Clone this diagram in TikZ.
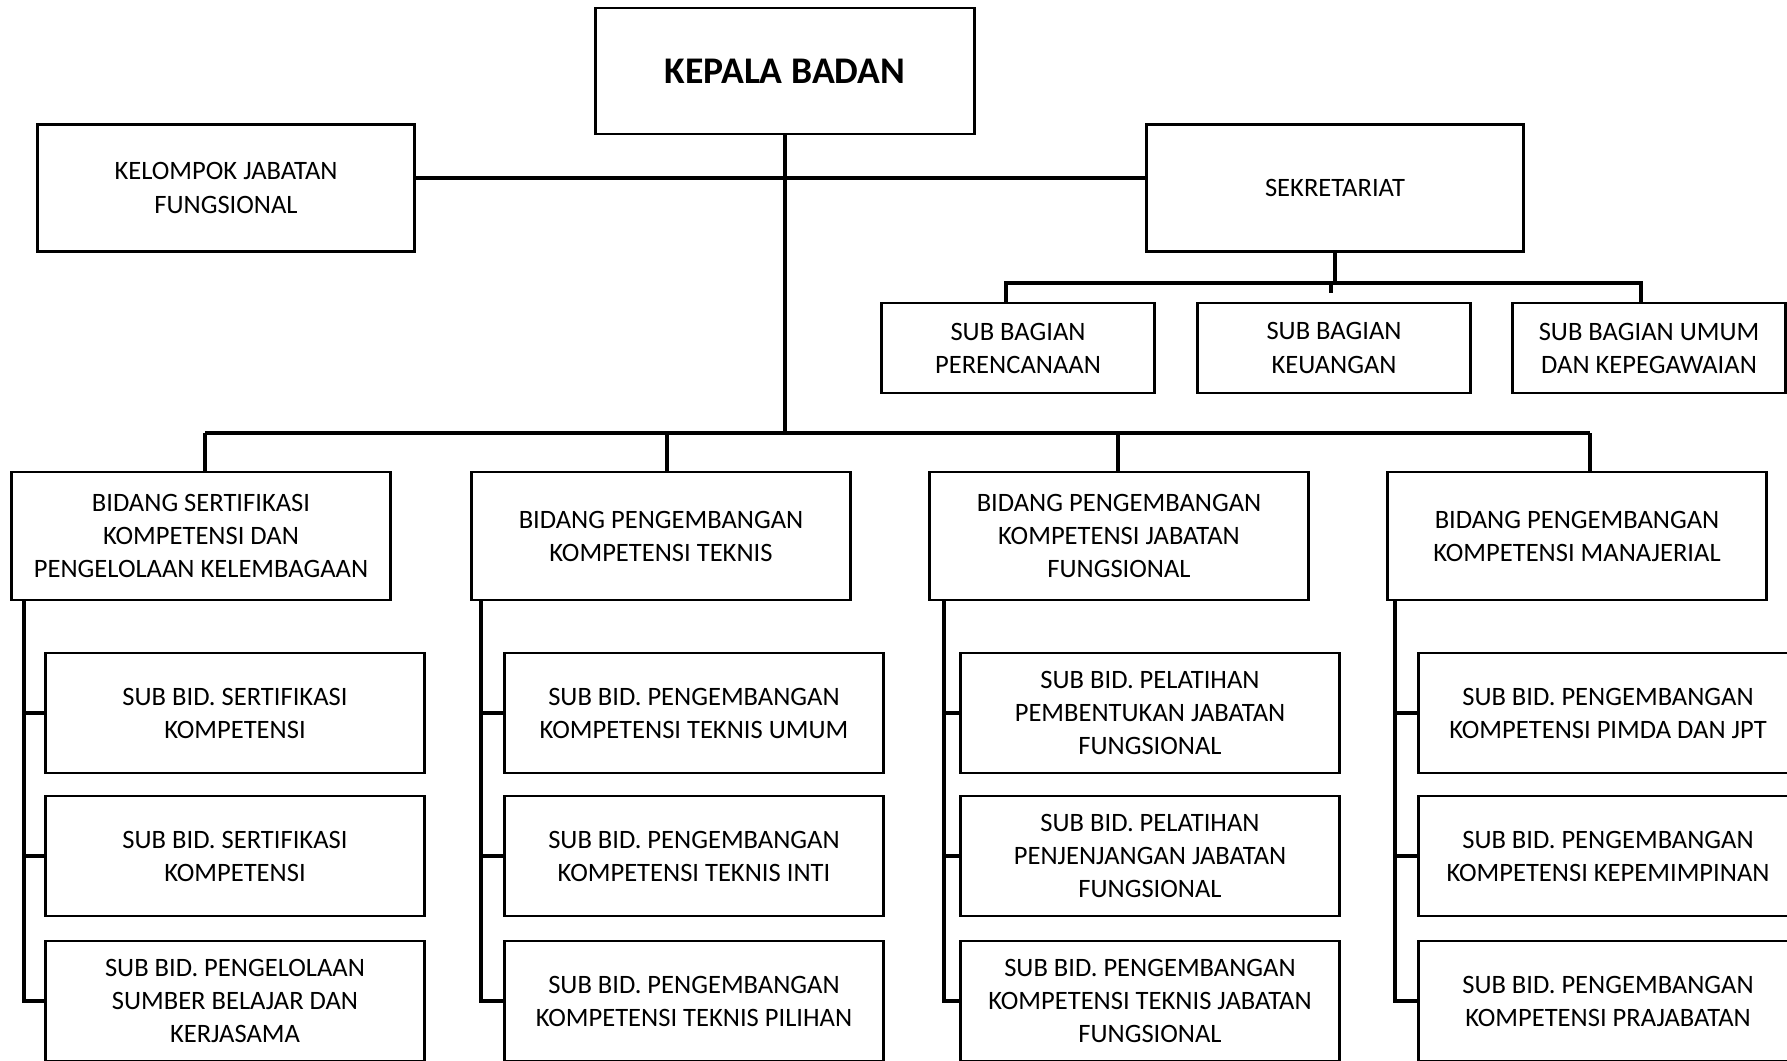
\documentclass[tikz,border=0pt]{standalone}
\usepackage{fontspec}
\setmainfont{Carlito}
\tikzset{
  box/.style={draw, line width=0.8pt, align=center, inner sep=0pt,
    font=\fontsize{7.55}{9.4}\selectfont, minimum width=3.78cm, minimum height=1.2cm},
  bagbox/.style={box, minimum width=2.73cm, minimum height=0.9cm},
  bidbox/.style={box, minimum width=3.79cm, minimum height=1.28cm},
  link/.style={line width=1.3pt},
}
\begin{document}
\begin{tikzpicture}[x=0.01cm, y=-0.01cm]
            \useasboundingbox (0,0) rectangle (1787,1060);
            % top level
            \node[box, minimum height=1.26cm, font=\bfseries\fontsize{10.7}{12}\selectfont] (kepala) at (785,71) {KEPALA BADAN};
            \node[box, minimum width=3.77cm, minimum height=1.27cm] (kjf) at (226,188) {KELOMPOK JABATAN\\FUNGSIONAL};
            \node[box, minimum width=3.77cm, minimum height=1.27cm] (sekre) at (1335,188) {SEKRETARIAT};
            % sub bagian
            \node[bagbox] (sb1) at (1018,348) {SUB BAGIAN\\PERENCANAAN};
            \node[bagbox] (sb2) at (1334,348) {SUB BAGIAN\\KEUANGAN};
            \node[bagbox] (sb3) at (1649,348) {SUB BAGIAN UMUM\\DAN KEPEGAWAIAN};
            % bidang
            \node[bidbox] (bid1) at (201,536) {BIDANG SERTIFIKASI\\KOMPETENSI DAN\\PENGELOLAAN KELEMBAGAAN};
            \node[bidbox] (bid2) at (661,536) {BIDANG PENGEMBANGAN\\KOMPETENSI TEKNIS};
            \node[bidbox] (bid3) at (1119,536) {BIDANG PENGEMBANGAN\\KOMPETENSI JABATAN\\FUNGSIONAL};
            \node[bidbox] (bid4) at (1577,536) {BIDANG PENGEMBANGAN\\KOMPETENSI MANAJERIAL};
            % sub bidang
            \node[box] (sbid11) at (235,713) {SUB BID. SERTIFIKASI\\KOMPETENSI};
            \node[box] (sbid12) at (235,856) {SUB BID. SERTIFIKASI\\KOMPETENSI};
            \node[box] (sbid13) at (235,1001) {SUB BID. PENGELOLAAN\\SUMBER BELAJAR DAN\\KERJASAMA};
            \node[box] (sbid21) at (694,713) {SUB BID. PENGEMBANGAN\\KOMPETENSI TEKNIS UMUM};
            \node[box] (sbid22) at (694,856) {SUB BID. PENGEMBANGAN\\KOMPETENSI TEKNIS INTI};
            \node[box] (sbid23) at (694,1001) {SUB BID. PENGEMBANGAN\\KOMPETENSI TEKNIS PILIHAN};
            \node[box] (sbid31) at (1150,713) {SUB BID. PELATIHAN\\PEMBENTUKAN JABATAN\\FUNGSIONAL};
            \node[box] (sbid32) at (1150,856) {SUB BID. PELATIHAN\\PENJENJANGAN JABATAN\\FUNGSIONAL};
            \node[box] (sbid33) at (1150,1001) {SUB BID. PENGEMBANGAN\\KOMPETENSI TEKNIS JABATAN\\FUNGSIONAL};
            \node[box] (sbid41) at (1608,713) {SUB BID. PENGEMBANGAN\\KOMPETENSI PIMDA DAN JPT};
            \node[box] (sbid42) at (1608,856) {SUB BID. PENGEMBANGAN\\KOMPETENSI KEPEMIMPINAN};
            \node[box] (sbid43) at (1608,1001) {SUB BID. PENGEMBANGAN\\KOMPETENSI PRAJABATAN};
            % define point
            \coordinate (mid)  at (785,178);
            \coordinate (bar)  at (785,433);
            \coordinate (d1) at (205,433);
            \coordinate (d2) at (667,433);
            \coordinate (d3) at (1118,433);
            \coordinate (d4) at (1590,433);
            \coordinate (sbar) at (1335,283);
            \coordinate (s1) at (1006,283);
            \coordinate (s3) at (1641,283);
            \coordinate (stub) at (1331,293);
            \coordinate (v1) at (24,600);
            \coordinate (v2) at (481,600);
            \coordinate (v3) at (944,600);
            \coordinate (v4) at (1395,600);
            % kepala badan
            \draw[link] (kepala.south) -- (bar);
            \draw[link] (kjf.east |- mid) -- (sekre.west |- mid);
            \draw[link] (d1) -- (d4);
            \draw[link] (d1) -- (d1 |- bid1.north);
            \draw[link] (d2) -- (d2 |- bid2.north);
            \draw[link] (d3) -- (d3 |- bid3.north);
            \draw[link] (d4) -- (d4 |- bid4.north);
            % sekretariat
            \draw[link] (sekre.south) -- (sbar);
            \draw[link] (s1 |- sb1.north) -- (s1) -- (s3) -- (s3 |- sb3.north);
            \draw[link] (sbar -| stub) -- (stub);
            % sub bidang
            \draw[link] (v1) |- (sbid13.west);
            \draw[link] (v1 |- sbid11.west) -- (sbid11.west);
            \draw[link] (v1 |- sbid12.west) -- (sbid12.west);
            \draw[link] (v2) |- (sbid23.west);
            \draw[link] (v2 |- sbid21.west) -- (sbid21.west);
            \draw[link] (v2 |- sbid22.west) -- (sbid22.west);
            \draw[link] (v3) |- (sbid33.west);
            \draw[link] (v3 |- sbid31.west) -- (sbid31.west);
            \draw[link] (v3 |- sbid32.west) -- (sbid32.west);
            \draw[link] (v4) |- (sbid43.west);
            \draw[link] (v4 |- sbid41.west) -- (sbid41.west);
            \draw[link] (v4 |- sbid42.west) -- (sbid42.west);
        \end{tikzpicture}
\end{document}
